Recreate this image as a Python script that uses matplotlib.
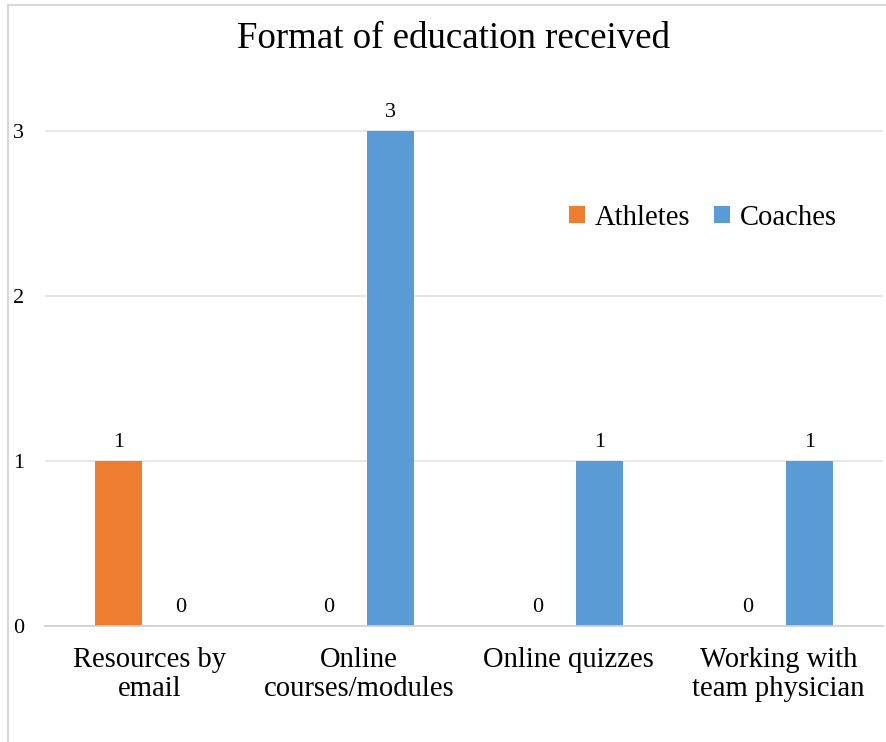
import matplotlib

matplotlib.use("Agg")
import matplotlib.pyplot as plt  # noqa: E402
import numpy as np  # noqa: E402
from matplotlib.patches import Patch, Rectangle  # noqa: E402

categories = [
    "Resources by\nemail",
    "Online\ncourses/modules",
    "Online quizzes",
    "Working with\nteam physician",
]
athletes = [1, 0, 0, 0]
coaches = [0, 3, 1, 1]
y_ticks = [0, 1, 2, 3]

ATHLETE_COLOR = "#ED7D31"
COACH_COLOR = "#5B9BD5"
W, H = 886, 742

plt.rcParams["font.family"] = ["Liberation Serif", "DejaVu Serif"]

fig = plt.figure(figsize=(W / 100, H / 100), dpi=100)
ax = fig.add_axes([45 / W, 1 - 626 / H, 838 / W, 577.5 / H])

x = np.arange(len(categories))
offset = 0.148
width = 0.225
bars_a = ax.bar(x - offset, athletes, width, color=ATHLETE_COLOR, label="Athletes", zorder=2)
bars_c = ax.bar(x + offset, coaches, width, color=COACH_COLOR, label="Coaches", zorder=2)

for bars in (bars_a, bars_c):
    for rect in bars:
        h = rect.get_height()
        ax.annotate(
            f"{h:g}",
            xy=(rect.get_x() + rect.get_width() / 2, h),
            xytext=(0, 10),
            textcoords="offset points",
            ha="center",
            va="baseline",
            fontsize=16,
        )

ax.set_xlim(-0.5, len(categories) - 0.5)
ax.set_ylim(0, 3.5)
ax.set_yticks(y_ticks)
ax.set_yticklabels([str(t) for t in y_ticks], fontsize=16)
ax.set_xticks(x)
ax.set_xticklabels(categories, fontsize=20.6, linespacing=1.16)
ax.tick_params(axis="both", length=0)
ax.tick_params(axis="y", pad=15)
ax.tick_params(axis="x", pad=15)

for s in ("top", "right", "left"):
    ax.spines[s].set_visible(False)
ax.spines["bottom"].set_color("#d0d0d0")
ax.spines["bottom"].set_linewidth(1.2)
ax.yaxis.grid(True, color="#e3e3e3", linewidth=1.2, zorder=0)
ax.set_axisbelow(True)

handles = [
    Patch(facecolor=ATHLETE_COLOR, label="Athletes"),
    Patch(facecolor=COACH_COLOR, label="Coaches"),
]
fig.legend(
    handles=handles,
    loc="center",
    bbox_to_anchor=(703 / W, 1 - 218 / H),
    ncol=2,
    frameon=False,
    fontsize=20.6,
    handlelength=0.55,
    handleheight=0.55,
    handletextpad=0.35,
    columnspacing=0.85,
)

fig.text(453 / W, 1 - 48 / H, "Format of education received", ha="center", va="baseline", fontsize=26.6)

# light outer frame
fig.patches.append(
    Rectangle(
        (8 / W, -0.05),
        1.1,
        1 - 5 / H + 0.05,
        transform=fig.transFigure,
        fill=False,
        edgecolor="#d9d9d9",
        linewidth=1.5,
    )
)

fig.savefig("out.png", dpi=100)
